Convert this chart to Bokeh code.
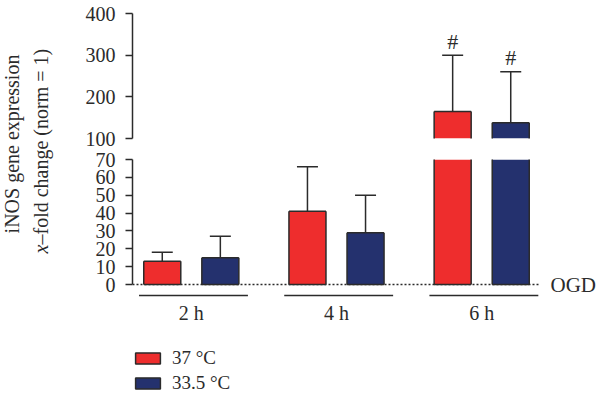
import numpy as np
from bokeh.plotting import figure
from bokeh.models import (ColumnDataSource, FactorRange, Range1d, FixedTicker, LinearAxis,
                          Span, Legend, LegendItem, CDSView, BooleanFilter)
from bokeh.transform import dodge
from bokeh.layouts import row, column
from bokeh.embed import file_html
from bokeh.resources import INLINE
from bokeh.core.properties import value

# ---------------- data ----------------
groups = ["2 h", "4 h", "6 h"]
mean_37 = [13, 41, 165]
sd_37 = [5, 25, 135]
mean_335 = [15, 29, 138]
sd_335 = [12, 21, 122]
sig_37 = ["", "", "#"]
sig_335 = ["", "", "#"]
series_labels = ["37 °C", "33.5 °C"]
upper_ticks = [100, 200, 300, 400]
lower_ticks = [0, 10, 20, 30, 40, 50, 60, 70]
baseline_label = "OGD"
ylabel_line1 = "iNOS gene expression"
ylabel_x = "x"
ylabel_rest = "–fold change (norm = 1)"

# ---------------- style ----------------
RED = "#EE2D2D"
NAVY = "#24316E"
INK = "#2B2B2B"
FONT = "Liberation Serif"
BAR_W = 0.255
OFF = 0.2
UNDER_Y = -6.2
LW = 1.5
UPPER = (100, 400)
LOWER = (0, 70)

src = ColumnDataSource(dict(
    group=groups,
    zero=[0] * len(groups),
    m37=mean_37, t37=list(np.array(mean_37) + np.array(sd_37)), s37=sig_37,
    m335=mean_335, t335=list(np.array(mean_335) + np.array(sd_335)), s335=sig_335,
))

x_range = FactorRange(*groups, range_padding=-0.095, range_padding_units="absolute")


def style_yaxis(ax, ticks, bounds):
    ax.ticker = FixedTicker(ticks=ticks)
    ax.bounds = bounds
    ax.minor_tick_line_color = None
    ax.major_tick_in = 0
    ax.major_tick_out = 7
    ax.major_tick_line_color = INK
    ax.major_tick_line_width = LW
    ax.axis_line_color = INK
    ax.axis_line_width = LW
    ax.major_label_standoff = 10
    ax.major_label_text_font = FONT
    ax.major_label_text_font_size = "20px"
    ax.major_label_text_color = INK


def make_panel(yr, frame_h, top_b, bot_b, with_x, floor):
    p = figure(x_range=x_range, y_range=yr, frame_width=408, frame_height=frame_h,
               min_border_left=68, min_border_right=60, min_border_top=top_b,
               min_border_bottom=bot_b, toolbar_location=None, output_backend="svg",
               x_axis_location="below" if with_x else None)
    p.outline_line_color = None
    p.grid.visible = False
    p.background_fill_color = None
    p.border_fill_color = None
    for vals, m, t, col, off in ((mean_37, "m37", "t37", RED, -OFF),
                                 (mean_335, "m335", "t335", NAVY, OFF)):
        xx = dodge("group", off, range=x_range)
        xl = dodge("group", off - BAR_W / 2, range=x_range)
        xr = dodge("group", off + BAR_W / 2, range=x_range)
        # bars that reach into this panel
        view = CDSView(filter=BooleanFilter([v > floor for v in vals]))
        p.vbar(x=xx, top=m, bottom=0, width=BAR_W, source=src, view=view,
               fill_color=col, line_color=None)
        # bar outline (drawn as lines so that the axis break cuts it cleanly)
        p.segment(x0=xl, y0="zero", x1=xl, y1=m, source=src, line_color=INK, line_width=LW)
        p.segment(x0=xr, y0="zero", x1=xr, y1=m, source=src, line_color=INK, line_width=LW)
        p.segment(x0=xl, y0=m, x1=xr, y1=m, source=src, line_color=INK, line_width=LW)
        p.segment(x0=xl, y0="zero", x1=xr, y1="zero", source=src, line_color=INK, line_width=LW)
        # error bar (upper SD)
        p.segment(x0=xx, y0=m, x1=xx, y1=t, source=src, line_color=INK, line_width=LW)
        p.scatter(x=xx, y=t, marker="dash", size=21, source=src,
                  line_color=INK, line_width=LW)
    return p


# upper panel (100 - 400)
up = make_panel(Range1d(*UPPER), 125, 13, 10, False, UPPER[0])
style_yaxis(up.yaxis[0], upper_ticks, UPPER)
for t, s, off in (("t37", "s37", -OFF), ("t335", "s335", OFF)):
    up.text(x=dodge("group", off, range=x_range), y=t, text=s, source=src,
            text_align="center", text_baseline="alphabetic", y_offset=-14,
            text_font=value(FONT), text_font_size="22px", text_color=INK)

# lower panel (0 - 70)
lo = make_panel(Range1d(-7.84, LOWER[1]), 139, 11, 49, True, -1)
style_yaxis(lo.yaxis[0], lower_ticks, LOWER)
lo.add_layout(Span(location=0, dimension="width", line_color=INK, line_width=LW,
                   line_dash="2 2", level="underlay"))
lo.segment(x0=dodge("group", -0.36, range=x_range), x1=dodge("group", 0.39, range=x_range),
           y0=UNDER_Y, y1=UNDER_Y, source=src, line_color=INK, line_width=LW)
xa = lo.xaxis[0]
xa.axis_line_color = None
xa.major_tick_line_color = None
xa.minor_tick_line_color = None
xa.major_tick_out = 0
xa.major_label_standoff = 3
xa.major_label_text_font = FONT
xa.major_label_text_font_size = "20px"
xa.major_label_text_color = INK

ogd = LinearAxis(ticker=FixedTicker(ticks=[0]), major_label_overrides={0: baseline_label},
                 axis_line_color=None, major_tick_line_color=None, minor_tick_line_color=None,
                 major_tick_out=0, major_label_standoff=10,
                 major_label_text_font=FONT, major_label_text_font_size="21px",
                 major_label_text_color=INK)
lo.add_layout(ogd, "right")

# legend panel
lg = figure(width=536, height=46, x_range=Range1d(0, 1), y_range=Range1d(0, 1),
            toolbar_location=None, output_backend="svg", min_border=0, min_border_left=65,
            x_axis_location=None, y_axis_location=None)
lg.outline_line_color = None
lg.grid.visible = False
swatch = ColumnDataSource(dict(x=[float("nan")], top=[float("nan")]))
r1 = lg.vbar(x="x", top="top", width=0.1, source=swatch, fill_color=RED, line_color=INK,
             line_width=LW)
r2 = lg.vbar(x="x", top="top", width=0.1, source=swatch, fill_color=NAVY, line_color=INK,
             line_width=LW)
legend = Legend(items=[LegendItem(label=series_labels[0], renderers=[r1]),
                       LegendItem(label=series_labels[1], renderers=[r2])],
                location="top_left", orientation="vertical", margin=0, padding=0,
                spacing=3, glyph_width=31, glyph_height=14, label_height=14,
                label_standoff=9,
                label_text_font=FONT, label_text_font_size="19px", label_text_color=INK,
                border_line_color=None, background_fill_alpha=0)
lg.add_layout(legend)

# y-axis title
yl = figure(width=64, height=393, x_range=Range1d(0, 64), y_range=Range1d(0, 393),
            toolbar_location=None, output_backend="svg", min_border=0,
            x_axis_location=None, y_axis_location=None)
yl.outline_line_color = None
yl.grid.visible = False
yl.text(x=[11], y=[249.5], text=[ylabel_line1], angle=np.pi / 2, text_align="center",
        text_baseline="middle", text_font=value(FONT), text_font_size="20px", text_color=INK)
yl.text(x=[40], y=[140], text=[ylabel_x], angle=np.pi / 2, text_align="left",
        text_baseline="middle", text_font=value(FONT), text_font_style="italic",
        text_font_size="20px", text_color=INK)
yl.text(x=[40], y=[149], text=[ylabel_rest], angle=np.pi / 2, text_align="left",
        text_baseline="middle", text_font=value(FONT), text_font_size="20px", text_color=INK)

layout = row(yl, column(up, lo, lg))
open("out.html", "w").write(file_html(layout, INLINE))
